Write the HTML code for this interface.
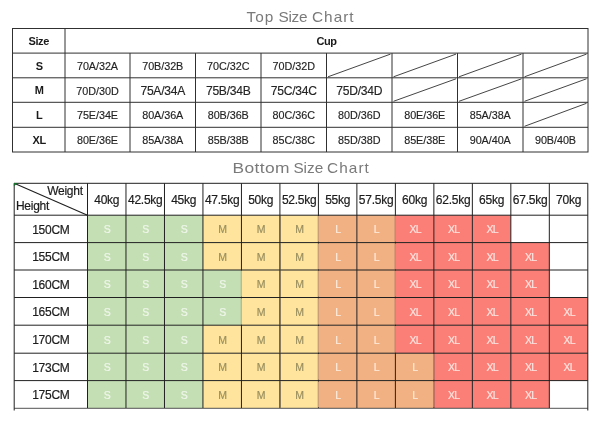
<!DOCTYPE html>
<html><head><meta charset="utf-8"><title>Size Chart</title>
<style>
html,body{margin:0;padding:0;background:#fff;}
body{width:600px;height:421px;position:relative;overflow:hidden;font-family:"Liberation Sans",sans-serif;}
text{font-family:"Liberation Sans",sans-serif;}
.ttl{font-size:14.5px;fill:#7a7a7a;}
.b{font-size:11px;font-weight:bold;fill:#1a1a1a;letter-spacing:-0.4px;}
.t{font-size:10.8px;fill:#242424;letter-spacing:-0.05px;stroke:#242424;stroke-width:0.15px;}
.h{font-size:12px;fill:#1c1c1c;letter-spacing:-0.25px;stroke:#1c1c1c;stroke-width:0.2px;}
.tb{font-size:12.1px;letter-spacing:-0.25px;}
.c{font-size:10.5px;}
.xl{letter-spacing:-0.8px;}
</style></head><body>
<svg width="600" height="421" viewBox="0 0 600 421" style="position:absolute;left:0;top:0;filter:blur(0.3px)">
<rect width="600" height="421" fill="#fff"/>
<text transform="translate(246.60,21.90) scale(1.060,1)" class="ttl" textLength="25.09" lengthAdjust="spacing">Top</text>
<text transform="translate(278.40,21.90) scale(1.060,1)" class="ttl" textLength="27.55" lengthAdjust="spacing">Size</text>
<text transform="translate(312.00,21.90) scale(1.060,1)" class="ttl" textLength="39.25" lengthAdjust="spacing">Chart</text>
<text transform="translate(232.60,172.90) scale(1.200,1)" class="ttl" textLength="47.50" lengthAdjust="spacing">Bottom</text>
<text transform="translate(293.40,172.90) scale(1.060,1)" class="ttl" textLength="28.11" lengthAdjust="spacing">Size</text>
<text transform="translate(327.00,172.90) scale(1.060,1)" class="ttl" textLength="39.53" lengthAdjust="spacing">Chart</text>
<g stroke="#303030" stroke-width="1" fill="none">
<rect x="12.5" y="28.5" width="575.5" height="123.5"/>
<line x1="12.5" y1="53.1" x2="588" y2="53.1"/>
<line x1="12.5" y1="77.8" x2="588" y2="77.8"/>
<line x1="12.5" y1="102.3" x2="588" y2="102.3"/>
<line x1="12.5" y1="127.3" x2="588" y2="127.3"/>
<line x1="65" y1="28.5" x2="65" y2="152.0"/>
<line x1="130" y1="53.1" x2="130" y2="152.0"/>
<line x1="195.5" y1="53.1" x2="195.5" y2="152.0"/>
<line x1="261" y1="53.1" x2="261" y2="152.0"/>
<line x1="326.5" y1="53.1" x2="326.5" y2="152.0"/>
<line x1="392" y1="53.1" x2="392" y2="152.0"/>
<line x1="457.5" y1="53.1" x2="457.5" y2="152.0"/>
<line x1="523" y1="53.1" x2="523" y2="152.0"/>
<line x1="328.0" y1="76.8" x2="390.5" y2="54.1" stroke-width="0.9"/>
<line x1="393.5" y1="76.8" x2="456.0" y2="54.1" stroke-width="0.9"/>
<line x1="459.0" y1="76.8" x2="521.5" y2="54.1" stroke-width="0.9"/>
<line x1="524.5" y1="76.8" x2="586.5" y2="54.1" stroke-width="0.9"/>
<line x1="393.5" y1="101.3" x2="456.0" y2="78.8" stroke-width="0.9"/>
<line x1="459.0" y1="101.3" x2="521.5" y2="78.8" stroke-width="0.9"/>
<line x1="524.5" y1="101.3" x2="586.5" y2="78.8" stroke-width="0.9"/>
<line x1="524.5" y1="126.3" x2="586.5" y2="103.3" stroke-width="0.9"/>
</g>
<text x="38.75" y="44.8" class="b" text-anchor="middle">Size</text>
<text x="326.5" y="44.8" class="b" text-anchor="middle">Cup</text>
<text x="39.25" y="69.85000000000001" class="b" text-anchor="middle">S</text>
<text x="97.5" y="70.05" class="t" text-anchor="middle">70A/32A</text>
<text x="162.75" y="70.05" class="t" text-anchor="middle">70B/32B</text>
<text x="228.25" y="70.05" class="t" text-anchor="middle">70C/32C</text>
<text x="293.75" y="70.05" class="t" text-anchor="middle">70D/32D</text>
<text x="39.25" y="94.45" class="b" text-anchor="middle">M</text>
<text x="97.5" y="94.64999999999999" class="t" text-anchor="middle">70D/30D</text>
<text x="162.75" y="95.05" class="t tb" text-anchor="middle">75A/34A</text>
<text x="228.25" y="95.05" class="t tb" text-anchor="middle">75B/34B</text>
<text x="293.75" y="95.05" class="t tb" text-anchor="middle">75C/34C</text>
<text x="359.25" y="95.05" class="t tb" text-anchor="middle">75D/34D</text>
<text x="39.25" y="119.2" class="b" text-anchor="middle">L</text>
<text x="97.5" y="119.39999999999999" class="t" text-anchor="middle">75E/34E</text>
<text x="162.75" y="119.39999999999999" class="t" text-anchor="middle">80A/36A</text>
<text x="228.25" y="119.39999999999999" class="t" text-anchor="middle">80B/36B</text>
<text x="293.75" y="119.39999999999999" class="t" text-anchor="middle">80C/36C</text>
<text x="359.25" y="119.39999999999999" class="t" text-anchor="middle">80D/36D</text>
<text x="424.75" y="119.39999999999999" class="t" text-anchor="middle">80E/36E</text>
<text x="490.25" y="119.39999999999999" class="t" text-anchor="middle">85A/38A</text>
<text x="39.25" y="144.05" class="b" text-anchor="middle">XL</text>
<text x="97.5" y="144.25" class="t" text-anchor="middle">80E/36E</text>
<text x="162.75" y="144.25" class="t" text-anchor="middle">85A/38A</text>
<text x="228.25" y="144.25" class="t" text-anchor="middle">85B/38B</text>
<text x="293.75" y="144.25" class="t" text-anchor="middle">85C/38C</text>
<text x="359.25" y="144.25" class="t" text-anchor="middle">85D/38D</text>
<text x="424.75" y="144.25" class="t" text-anchor="middle">85E/38E</text>
<text x="490.25" y="144.25" class="t" text-anchor="middle">90A/40A</text>
<text x="555.5" y="144.25" class="t" text-anchor="middle">90B/40B</text>
<rect x="87.50" y="215.2" width="38.48" height="27.40" fill="#c5dfb4"/>
<rect x="125.98" y="215.2" width="38.48" height="27.40" fill="#c5dfb4"/>
<rect x="164.47" y="215.2" width="38.48" height="27.40" fill="#c5dfb4"/>
<rect x="202.95" y="215.2" width="38.48" height="27.40" fill="#fee49c"/>
<rect x="241.44" y="215.2" width="38.48" height="27.40" fill="#fee49c"/>
<rect x="279.92" y="215.2" width="38.48" height="27.40" fill="#fee49c"/>
<rect x="318.41" y="215.2" width="38.48" height="27.40" fill="#f2b183"/>
<rect x="356.89" y="215.2" width="38.48" height="27.40" fill="#f2b183"/>
<rect x="395.38" y="215.2" width="38.48" height="27.40" fill="#fb7f77"/>
<rect x="433.86" y="215.2" width="38.48" height="27.40" fill="#fb7f77"/>
<rect x="472.35" y="215.2" width="38.48" height="27.40" fill="#fb7f77"/>
<rect x="87.50" y="242.6" width="38.48" height="27.40" fill="#c5dfb4"/>
<rect x="125.98" y="242.6" width="38.48" height="27.40" fill="#c5dfb4"/>
<rect x="164.47" y="242.6" width="38.48" height="27.40" fill="#c5dfb4"/>
<rect x="202.95" y="242.6" width="38.48" height="27.40" fill="#fee49c"/>
<rect x="241.44" y="242.6" width="38.48" height="27.40" fill="#fee49c"/>
<rect x="279.92" y="242.6" width="38.48" height="27.40" fill="#fee49c"/>
<rect x="318.41" y="242.6" width="38.48" height="27.40" fill="#f2b183"/>
<rect x="356.89" y="242.6" width="38.48" height="27.40" fill="#f2b183"/>
<rect x="395.38" y="242.6" width="38.48" height="27.40" fill="#fb7f77"/>
<rect x="433.86" y="242.6" width="38.48" height="27.40" fill="#fb7f77"/>
<rect x="472.35" y="242.6" width="38.48" height="27.40" fill="#fb7f77"/>
<rect x="510.83" y="242.6" width="38.48" height="27.40" fill="#fb7f77"/>
<rect x="87.50" y="270" width="38.48" height="27.50" fill="#c5dfb4"/>
<rect x="125.98" y="270" width="38.48" height="27.50" fill="#c5dfb4"/>
<rect x="164.47" y="270" width="38.48" height="27.50" fill="#c5dfb4"/>
<rect x="202.95" y="270" width="38.48" height="27.50" fill="#c5dfb4"/>
<rect x="241.44" y="270" width="38.48" height="27.50" fill="#fee49c"/>
<rect x="279.92" y="270" width="38.48" height="27.50" fill="#fee49c"/>
<rect x="318.41" y="270" width="38.48" height="27.50" fill="#f2b183"/>
<rect x="356.89" y="270" width="38.48" height="27.50" fill="#f2b183"/>
<rect x="395.38" y="270" width="38.48" height="27.50" fill="#fb7f77"/>
<rect x="433.86" y="270" width="38.48" height="27.50" fill="#fb7f77"/>
<rect x="472.35" y="270" width="38.48" height="27.50" fill="#fb7f77"/>
<rect x="510.83" y="270" width="38.48" height="27.50" fill="#fb7f77"/>
<rect x="87.50" y="297.5" width="38.48" height="27.70" fill="#c5dfb4"/>
<rect x="125.98" y="297.5" width="38.48" height="27.70" fill="#c5dfb4"/>
<rect x="164.47" y="297.5" width="38.48" height="27.70" fill="#c5dfb4"/>
<rect x="202.95" y="297.5" width="38.48" height="27.70" fill="#c5dfb4"/>
<rect x="241.44" y="297.5" width="38.48" height="27.70" fill="#fee49c"/>
<rect x="279.92" y="297.5" width="38.48" height="27.70" fill="#fee49c"/>
<rect x="318.41" y="297.5" width="38.48" height="27.70" fill="#f2b183"/>
<rect x="356.89" y="297.5" width="38.48" height="27.70" fill="#f2b183"/>
<rect x="395.38" y="297.5" width="38.48" height="27.70" fill="#fb7f77"/>
<rect x="433.86" y="297.5" width="38.48" height="27.70" fill="#fb7f77"/>
<rect x="472.35" y="297.5" width="38.48" height="27.70" fill="#fb7f77"/>
<rect x="510.83" y="297.5" width="38.48" height="27.70" fill="#fb7f77"/>
<rect x="549.32" y="297.5" width="38.48" height="27.70" fill="#fb7f77"/>
<rect x="87.50" y="325.2" width="38.48" height="28.00" fill="#c5dfb4"/>
<rect x="125.98" y="325.2" width="38.48" height="28.00" fill="#c5dfb4"/>
<rect x="164.47" y="325.2" width="38.48" height="28.00" fill="#c5dfb4"/>
<rect x="202.95" y="325.2" width="38.48" height="28.00" fill="#fee49c"/>
<rect x="241.44" y="325.2" width="38.48" height="28.00" fill="#fee49c"/>
<rect x="279.92" y="325.2" width="38.48" height="28.00" fill="#fee49c"/>
<rect x="318.41" y="325.2" width="38.48" height="28.00" fill="#f2b183"/>
<rect x="356.89" y="325.2" width="38.48" height="28.00" fill="#f2b183"/>
<rect x="395.38" y="325.2" width="38.48" height="28.00" fill="#fb7f77"/>
<rect x="433.86" y="325.2" width="38.48" height="28.00" fill="#fb7f77"/>
<rect x="472.35" y="325.2" width="38.48" height="28.00" fill="#fb7f77"/>
<rect x="510.83" y="325.2" width="38.48" height="28.00" fill="#fb7f77"/>
<rect x="549.32" y="325.2" width="38.48" height="28.00" fill="#fb7f77"/>
<rect x="87.50" y="353.2" width="38.48" height="27.40" fill="#c5dfb4"/>
<rect x="125.98" y="353.2" width="38.48" height="27.40" fill="#c5dfb4"/>
<rect x="164.47" y="353.2" width="38.48" height="27.40" fill="#c5dfb4"/>
<rect x="202.95" y="353.2" width="38.48" height="27.40" fill="#fee49c"/>
<rect x="241.44" y="353.2" width="38.48" height="27.40" fill="#fee49c"/>
<rect x="279.92" y="353.2" width="38.48" height="27.40" fill="#fee49c"/>
<rect x="318.41" y="353.2" width="38.48" height="27.40" fill="#f2b183"/>
<rect x="356.89" y="353.2" width="38.48" height="27.40" fill="#f2b183"/>
<rect x="395.38" y="353.2" width="38.48" height="27.40" fill="#f2b183"/>
<rect x="433.86" y="353.2" width="38.48" height="27.40" fill="#fb7f77"/>
<rect x="472.35" y="353.2" width="38.48" height="27.40" fill="#fb7f77"/>
<rect x="510.83" y="353.2" width="38.48" height="27.40" fill="#fb7f77"/>
<rect x="549.32" y="353.2" width="38.48" height="27.40" fill="#fb7f77"/>
<rect x="87.50" y="380.6" width="38.48" height="27.40" fill="#c5dfb4"/>
<rect x="125.98" y="380.6" width="38.48" height="27.40" fill="#c5dfb4"/>
<rect x="164.47" y="380.6" width="38.48" height="27.40" fill="#c5dfb4"/>
<rect x="202.95" y="380.6" width="38.48" height="27.40" fill="#fee49c"/>
<rect x="241.44" y="380.6" width="38.48" height="27.40" fill="#fee49c"/>
<rect x="279.92" y="380.6" width="38.48" height="27.40" fill="#fee49c"/>
<rect x="318.41" y="380.6" width="38.48" height="27.40" fill="#f2b183"/>
<rect x="356.89" y="380.6" width="38.48" height="27.40" fill="#f2b183"/>
<rect x="395.38" y="380.6" width="38.48" height="27.40" fill="#f2b183"/>
<rect x="433.86" y="380.6" width="38.48" height="27.40" fill="#fb7f77"/>
<rect x="472.35" y="380.6" width="38.48" height="27.40" fill="#fb7f77"/>
<rect x="510.83" y="380.6" width="38.48" height="27.40" fill="#fb7f77"/>
<g stroke="#202020" stroke-width="1" fill="none">
<line x1="14.2" y1="183.3" x2="587.8" y2="183.3"/>
<line x1="14.2" y1="215.2" x2="587.8" y2="215.2"/>
<line x1="14.2" y1="242.6" x2="587.8" y2="242.6"/>
<line x1="14.2" y1="270" x2="587.8" y2="270"/>
<line x1="14.2" y1="297.5" x2="587.8" y2="297.5"/>
<line x1="14.2" y1="325.2" x2="587.8" y2="325.2"/>
<line x1="14.2" y1="353.2" x2="587.8" y2="353.2"/>
<line x1="14.2" y1="380.6" x2="587.8" y2="380.6"/>
<line x1="14.2" y1="408.3" x2="587.8" y2="408.3" stroke-width="0.85" stroke="#333"/>
<line x1="14.2" y1="183.3" x2="14.2" y2="410.5"/>
<line x1="87.50" y1="183.3" x2="87.50" y2="408"/>
<line x1="125.98" y1="183.3" x2="125.98" y2="408"/>
<line x1="164.47" y1="183.3" x2="164.47" y2="408"/>
<line x1="202.95" y1="183.3" x2="202.95" y2="408"/>
<line x1="241.44" y1="183.3" x2="241.44" y2="408"/>
<line x1="279.92" y1="183.3" x2="279.92" y2="408"/>
<line x1="318.41" y1="183.3" x2="318.41" y2="408"/>
<line x1="356.89" y1="183.3" x2="356.89" y2="408"/>
<line x1="395.38" y1="183.3" x2="395.38" y2="408"/>
<line x1="433.86" y1="183.3" x2="433.86" y2="408"/>
<line x1="472.35" y1="183.3" x2="472.35" y2="408"/>
<line x1="510.83" y1="183.3" x2="510.83" y2="408"/>
<line x1="549.32" y1="183.3" x2="549.32" y2="408"/>
<line x1="587.8" y1="183.3" x2="587.8" y2="410.5"/>
<line x1="318.41" y1="216.0" x2="318.41" y2="241.79999999999998" stroke="#d2a47a" stroke-width="1.1"/>
<line x1="318.41" y1="243.4" x2="318.41" y2="269.2" stroke="#d2a47a" stroke-width="1.1"/>
<line x1="318.41" y1="270.8" x2="318.41" y2="296.7" stroke="#d2a47a" stroke-width="1.1"/>
<line x1="318.41" y1="298.3" x2="318.41" y2="324.4" stroke="#d2a47a" stroke-width="1.1"/>
<line x1="318.41" y1="326.0" x2="318.41" y2="352.4" stroke="#d2a47a" stroke-width="1.1"/>
<line x1="318.41" y1="354.0" x2="318.41" y2="379.8" stroke="#d2a47a" stroke-width="1.1"/>
<line x1="318.41" y1="381.40000000000003" x2="318.41" y2="407.2" stroke="#d2a47a" stroke-width="1.1"/>
<line x1="395.38" y1="216.0" x2="395.38" y2="241.79999999999998" stroke="#dc8c78" stroke-width="1.1"/>
<line x1="395.38" y1="243.4" x2="395.38" y2="269.2" stroke="#dc8c78" stroke-width="1.1"/>
<line x1="395.38" y1="270.8" x2="395.38" y2="296.7" stroke="#dc8c78" stroke-width="1.1"/>
<line x1="395.38" y1="298.3" x2="395.38" y2="324.4" stroke="#dc8c78" stroke-width="1.1"/>
<line x1="395.38" y1="326.0" x2="395.38" y2="352.4" stroke="#dc8c78" stroke-width="1.1"/>
<line x1="433.86" y1="354.0" x2="433.86" y2="379.8" stroke="#dc8c78" stroke-width="1.1"/>
<line x1="433.86" y1="381.40000000000003" x2="433.86" y2="407.2" stroke="#dc8c78" stroke-width="1.1"/>
<line x1="241.44" y1="270.8" x2="241.44" y2="296.7" stroke="#b9bf92" stroke-width="1.1"/>
<line x1="241.44" y1="298.3" x2="241.44" y2="324.4" stroke="#b9bf92" stroke-width="1.1"/>
<line x1="279.92" y1="216.0" x2="279.92" y2="241.79999999999998" stroke="#6e6552" stroke-width="1.1"/>
<line x1="279.92" y1="243.4" x2="279.92" y2="269.2" stroke="#6e6552" stroke-width="1.1"/>
<line x1="279.92" y1="270.8" x2="279.92" y2="296.7" stroke="#6e6552" stroke-width="1.1"/>
<line x1="279.92" y1="298.3" x2="279.92" y2="324.4" stroke="#6e6552" stroke-width="1.1"/>
<line x1="279.92" y1="326.0" x2="279.92" y2="352.4" stroke="#6e6552" stroke-width="1.1"/>
<line x1="279.92" y1="354.0" x2="279.92" y2="379.8" stroke="#6e6552" stroke-width="1.1"/>
<line x1="279.92" y1="381.40000000000003" x2="279.92" y2="407.2" stroke="#6e6552" stroke-width="1.1"/>
<line x1="14.2" y1="183.3" x2="87.5" y2="215.2" stroke-width="1.15"/>
</g>
<path d="M13.899999999999999 182.9 h3.8 l-3.8 3.4z" fill="#14702a"/>
<text x="82.8" y="195.3" class="h" text-anchor="end">Weight</text>
<text x="15.9" y="209.8" class="h">Height</text>
<text x="106.74" y="204.35" class="h" text-anchor="middle">40kg</text>
<text x="145.23" y="204.35" class="h" text-anchor="middle">42.5kg</text>
<text x="183.71" y="204.35" class="h" text-anchor="middle">45kg</text>
<text x="222.20" y="204.35" class="h" text-anchor="middle">47.5kg</text>
<text x="260.68" y="204.35" class="h" text-anchor="middle">50kg</text>
<text x="299.17" y="204.35" class="h" text-anchor="middle">52.5kg</text>
<text x="337.65" y="204.35" class="h" text-anchor="middle">55kg</text>
<text x="376.13" y="204.35" class="h" text-anchor="middle">57.5kg</text>
<text x="414.62" y="204.35" class="h" text-anchor="middle">60kg</text>
<text x="453.10" y="204.35" class="h" text-anchor="middle">62.5kg</text>
<text x="491.59" y="204.35" class="h" text-anchor="middle">65kg</text>
<text x="530.07" y="204.35" class="h" text-anchor="middle">67.5kg</text>
<text x="568.56" y="204.35" class="h" text-anchor="middle">70kg</text>
<text x="50.85" y="233.99999999999997" class="h" text-anchor="middle">150CM</text>
<text x="107.24" y="233.29999999999998" class="c" fill="#eef6ea" stroke="#eef6ea" stroke-width="0.2" text-anchor="middle">S</text>
<text x="145.73" y="233.29999999999998" class="c" fill="#eef6ea" stroke="#eef6ea" stroke-width="0.2" text-anchor="middle">S</text>
<text x="184.21" y="233.29999999999998" class="c" fill="#eef6ea" stroke="#eef6ea" stroke-width="0.2" text-anchor="middle">S</text>
<text x="222.70" y="233.29999999999998" class="c" fill="#9a8f60" stroke="#9a8f60" stroke-width="0.2" text-anchor="middle">M</text>
<text x="261.18" y="233.29999999999998" class="c" fill="#9a8f60" stroke="#9a8f60" stroke-width="0.2" text-anchor="middle">M</text>
<text x="299.67" y="233.29999999999998" class="c" fill="#9a8f60" stroke="#9a8f60" stroke-width="0.2" text-anchor="middle">M</text>
<text x="338.15" y="233.29999999999998" class="c" fill="#fbeadb" stroke="#fbeadb" stroke-width="0.2" text-anchor="middle">L</text>
<text x="376.63" y="233.29999999999998" class="c" fill="#fbeadb" stroke="#fbeadb" stroke-width="0.2" text-anchor="middle">L</text>
<text x="415.12" y="233.29999999999998" class="c xl" fill="#fbe3de" stroke="#fbe3de" stroke-width="0.2" text-anchor="middle">XL</text>
<text x="453.60" y="233.29999999999998" class="c xl" fill="#fbe3de" stroke="#fbe3de" stroke-width="0.2" text-anchor="middle">XL</text>
<text x="492.09" y="233.29999999999998" class="c xl" fill="#fbe3de" stroke="#fbe3de" stroke-width="0.2" text-anchor="middle">XL</text>
<text x="50.85" y="261.40000000000003" class="h" text-anchor="middle">155CM</text>
<text x="107.24" y="260.70000000000005" class="c" fill="#eef6ea" stroke="#eef6ea" stroke-width="0.2" text-anchor="middle">S</text>
<text x="145.73" y="260.70000000000005" class="c" fill="#eef6ea" stroke="#eef6ea" stroke-width="0.2" text-anchor="middle">S</text>
<text x="184.21" y="260.70000000000005" class="c" fill="#eef6ea" stroke="#eef6ea" stroke-width="0.2" text-anchor="middle">S</text>
<text x="222.70" y="260.70000000000005" class="c" fill="#9a8f60" stroke="#9a8f60" stroke-width="0.2" text-anchor="middle">M</text>
<text x="261.18" y="260.70000000000005" class="c" fill="#9a8f60" stroke="#9a8f60" stroke-width="0.2" text-anchor="middle">M</text>
<text x="299.67" y="260.70000000000005" class="c" fill="#9a8f60" stroke="#9a8f60" stroke-width="0.2" text-anchor="middle">M</text>
<text x="338.15" y="260.70000000000005" class="c" fill="#fbeadb" stroke="#fbeadb" stroke-width="0.2" text-anchor="middle">L</text>
<text x="376.63" y="260.70000000000005" class="c" fill="#fbeadb" stroke="#fbeadb" stroke-width="0.2" text-anchor="middle">L</text>
<text x="415.12" y="260.70000000000005" class="c xl" fill="#fbe3de" stroke="#fbe3de" stroke-width="0.2" text-anchor="middle">XL</text>
<text x="453.60" y="260.70000000000005" class="c xl" fill="#fbe3de" stroke="#fbe3de" stroke-width="0.2" text-anchor="middle">XL</text>
<text x="492.09" y="260.70000000000005" class="c xl" fill="#fbe3de" stroke="#fbe3de" stroke-width="0.2" text-anchor="middle">XL</text>
<text x="530.57" y="260.70000000000005" class="c xl" fill="#fbe3de" stroke="#fbe3de" stroke-width="0.2" text-anchor="middle">XL</text>
<text x="50.85" y="288.85" class="h" text-anchor="middle">160CM</text>
<text x="107.24" y="288.15000000000003" class="c" fill="#eef6ea" stroke="#eef6ea" stroke-width="0.2" text-anchor="middle">S</text>
<text x="145.73" y="288.15000000000003" class="c" fill="#eef6ea" stroke="#eef6ea" stroke-width="0.2" text-anchor="middle">S</text>
<text x="184.21" y="288.15000000000003" class="c" fill="#eef6ea" stroke="#eef6ea" stroke-width="0.2" text-anchor="middle">S</text>
<text x="222.70" y="288.15000000000003" class="c" fill="#eef6ea" stroke="#eef6ea" stroke-width="0.2" text-anchor="middle">S</text>
<text x="261.18" y="288.15000000000003" class="c" fill="#9a8f60" stroke="#9a8f60" stroke-width="0.2" text-anchor="middle">M</text>
<text x="299.67" y="288.15000000000003" class="c" fill="#9a8f60" stroke="#9a8f60" stroke-width="0.2" text-anchor="middle">M</text>
<text x="338.15" y="288.15000000000003" class="c" fill="#fbeadb" stroke="#fbeadb" stroke-width="0.2" text-anchor="middle">L</text>
<text x="376.63" y="288.15000000000003" class="c" fill="#fbeadb" stroke="#fbeadb" stroke-width="0.2" text-anchor="middle">L</text>
<text x="415.12" y="288.15000000000003" class="c xl" fill="#fbe3de" stroke="#fbe3de" stroke-width="0.2" text-anchor="middle">XL</text>
<text x="453.60" y="288.15000000000003" class="c xl" fill="#fbe3de" stroke="#fbe3de" stroke-width="0.2" text-anchor="middle">XL</text>
<text x="492.09" y="288.15000000000003" class="c xl" fill="#fbe3de" stroke="#fbe3de" stroke-width="0.2" text-anchor="middle">XL</text>
<text x="530.57" y="288.15000000000003" class="c xl" fill="#fbe3de" stroke="#fbe3de" stroke-width="0.2" text-anchor="middle">XL</text>
<text x="50.85" y="316.45000000000005" class="h" text-anchor="middle">165CM</text>
<text x="107.24" y="315.75000000000006" class="c" fill="#eef6ea" stroke="#eef6ea" stroke-width="0.2" text-anchor="middle">S</text>
<text x="145.73" y="315.75000000000006" class="c" fill="#eef6ea" stroke="#eef6ea" stroke-width="0.2" text-anchor="middle">S</text>
<text x="184.21" y="315.75000000000006" class="c" fill="#eef6ea" stroke="#eef6ea" stroke-width="0.2" text-anchor="middle">S</text>
<text x="222.70" y="315.75000000000006" class="c" fill="#eef6ea" stroke="#eef6ea" stroke-width="0.2" text-anchor="middle">S</text>
<text x="261.18" y="315.75000000000006" class="c" fill="#9a8f60" stroke="#9a8f60" stroke-width="0.2" text-anchor="middle">M</text>
<text x="299.67" y="315.75000000000006" class="c" fill="#9a8f60" stroke="#9a8f60" stroke-width="0.2" text-anchor="middle">M</text>
<text x="338.15" y="315.75000000000006" class="c" fill="#fbeadb" stroke="#fbeadb" stroke-width="0.2" text-anchor="middle">L</text>
<text x="376.63" y="315.75000000000006" class="c" fill="#fbeadb" stroke="#fbeadb" stroke-width="0.2" text-anchor="middle">L</text>
<text x="415.12" y="315.75000000000006" class="c xl" fill="#fbe3de" stroke="#fbe3de" stroke-width="0.2" text-anchor="middle">XL</text>
<text x="453.60" y="315.75000000000006" class="c xl" fill="#fbe3de" stroke="#fbe3de" stroke-width="0.2" text-anchor="middle">XL</text>
<text x="492.09" y="315.75000000000006" class="c xl" fill="#fbe3de" stroke="#fbe3de" stroke-width="0.2" text-anchor="middle">XL</text>
<text x="530.57" y="315.75000000000006" class="c xl" fill="#fbe3de" stroke="#fbe3de" stroke-width="0.2" text-anchor="middle">XL</text>
<text x="569.06" y="315.75000000000006" class="c xl" fill="#fbe3de" stroke="#fbe3de" stroke-width="0.2" text-anchor="middle">XL</text>
<text x="50.85" y="344.3" class="h" text-anchor="middle">170CM</text>
<text x="107.24" y="343.6" class="c" fill="#eef6ea" stroke="#eef6ea" stroke-width="0.2" text-anchor="middle">S</text>
<text x="145.73" y="343.6" class="c" fill="#eef6ea" stroke="#eef6ea" stroke-width="0.2" text-anchor="middle">S</text>
<text x="184.21" y="343.6" class="c" fill="#eef6ea" stroke="#eef6ea" stroke-width="0.2" text-anchor="middle">S</text>
<text x="222.70" y="343.6" class="c" fill="#9a8f60" stroke="#9a8f60" stroke-width="0.2" text-anchor="middle">M</text>
<text x="261.18" y="343.6" class="c" fill="#9a8f60" stroke="#9a8f60" stroke-width="0.2" text-anchor="middle">M</text>
<text x="299.67" y="343.6" class="c" fill="#9a8f60" stroke="#9a8f60" stroke-width="0.2" text-anchor="middle">M</text>
<text x="338.15" y="343.6" class="c" fill="#fbeadb" stroke="#fbeadb" stroke-width="0.2" text-anchor="middle">L</text>
<text x="376.63" y="343.6" class="c" fill="#fbeadb" stroke="#fbeadb" stroke-width="0.2" text-anchor="middle">L</text>
<text x="415.12" y="343.6" class="c xl" fill="#fbe3de" stroke="#fbe3de" stroke-width="0.2" text-anchor="middle">XL</text>
<text x="453.60" y="343.6" class="c xl" fill="#fbe3de" stroke="#fbe3de" stroke-width="0.2" text-anchor="middle">XL</text>
<text x="492.09" y="343.6" class="c xl" fill="#fbe3de" stroke="#fbe3de" stroke-width="0.2" text-anchor="middle">XL</text>
<text x="530.57" y="343.6" class="c xl" fill="#fbe3de" stroke="#fbe3de" stroke-width="0.2" text-anchor="middle">XL</text>
<text x="569.06" y="343.6" class="c xl" fill="#fbe3de" stroke="#fbe3de" stroke-width="0.2" text-anchor="middle">XL</text>
<text x="50.85" y="372.0" class="h" text-anchor="middle">173CM</text>
<text x="107.24" y="371.3" class="c" fill="#eef6ea" stroke="#eef6ea" stroke-width="0.2" text-anchor="middle">S</text>
<text x="145.73" y="371.3" class="c" fill="#eef6ea" stroke="#eef6ea" stroke-width="0.2" text-anchor="middle">S</text>
<text x="184.21" y="371.3" class="c" fill="#eef6ea" stroke="#eef6ea" stroke-width="0.2" text-anchor="middle">S</text>
<text x="222.70" y="371.3" class="c" fill="#9a8f60" stroke="#9a8f60" stroke-width="0.2" text-anchor="middle">M</text>
<text x="261.18" y="371.3" class="c" fill="#9a8f60" stroke="#9a8f60" stroke-width="0.2" text-anchor="middle">M</text>
<text x="299.67" y="371.3" class="c" fill="#9a8f60" stroke="#9a8f60" stroke-width="0.2" text-anchor="middle">M</text>
<text x="338.15" y="371.3" class="c" fill="#fbeadb" stroke="#fbeadb" stroke-width="0.2" text-anchor="middle">L</text>
<text x="376.63" y="371.3" class="c" fill="#fbeadb" stroke="#fbeadb" stroke-width="0.2" text-anchor="middle">L</text>
<text x="415.12" y="371.3" class="c" fill="#fbeadb" stroke="#fbeadb" stroke-width="0.2" text-anchor="middle">L</text>
<text x="453.60" y="371.3" class="c xl" fill="#fbe3de" stroke="#fbe3de" stroke-width="0.2" text-anchor="middle">XL</text>
<text x="492.09" y="371.3" class="c xl" fill="#fbe3de" stroke="#fbe3de" stroke-width="0.2" text-anchor="middle">XL</text>
<text x="530.57" y="371.3" class="c xl" fill="#fbe3de" stroke="#fbe3de" stroke-width="0.2" text-anchor="middle">XL</text>
<text x="569.06" y="371.3" class="c xl" fill="#fbe3de" stroke="#fbe3de" stroke-width="0.2" text-anchor="middle">XL</text>
<text x="50.85" y="399.40000000000003" class="h" text-anchor="middle">175CM</text>
<text x="107.24" y="398.70000000000005" class="c" fill="#eef6ea" stroke="#eef6ea" stroke-width="0.2" text-anchor="middle">S</text>
<text x="145.73" y="398.70000000000005" class="c" fill="#eef6ea" stroke="#eef6ea" stroke-width="0.2" text-anchor="middle">S</text>
<text x="184.21" y="398.70000000000005" class="c" fill="#eef6ea" stroke="#eef6ea" stroke-width="0.2" text-anchor="middle">S</text>
<text x="222.70" y="398.70000000000005" class="c" fill="#9a8f60" stroke="#9a8f60" stroke-width="0.2" text-anchor="middle">M</text>
<text x="261.18" y="398.70000000000005" class="c" fill="#9a8f60" stroke="#9a8f60" stroke-width="0.2" text-anchor="middle">M</text>
<text x="299.67" y="398.70000000000005" class="c" fill="#9a8f60" stroke="#9a8f60" stroke-width="0.2" text-anchor="middle">M</text>
<text x="338.15" y="398.70000000000005" class="c" fill="#fbeadb" stroke="#fbeadb" stroke-width="0.2" text-anchor="middle">L</text>
<text x="376.63" y="398.70000000000005" class="c" fill="#fbeadb" stroke="#fbeadb" stroke-width="0.2" text-anchor="middle">L</text>
<text x="415.12" y="398.70000000000005" class="c" fill="#fbeadb" stroke="#fbeadb" stroke-width="0.2" text-anchor="middle">L</text>
<text x="453.60" y="398.70000000000005" class="c xl" fill="#fbe3de" stroke="#fbe3de" stroke-width="0.2" text-anchor="middle">XL</text>
<text x="492.09" y="398.70000000000005" class="c xl" fill="#fbe3de" stroke="#fbe3de" stroke-width="0.2" text-anchor="middle">XL</text>
<text x="530.57" y="398.70000000000005" class="c xl" fill="#fbe3de" stroke="#fbe3de" stroke-width="0.2" text-anchor="middle">XL</text>
</svg>
</body></html>
